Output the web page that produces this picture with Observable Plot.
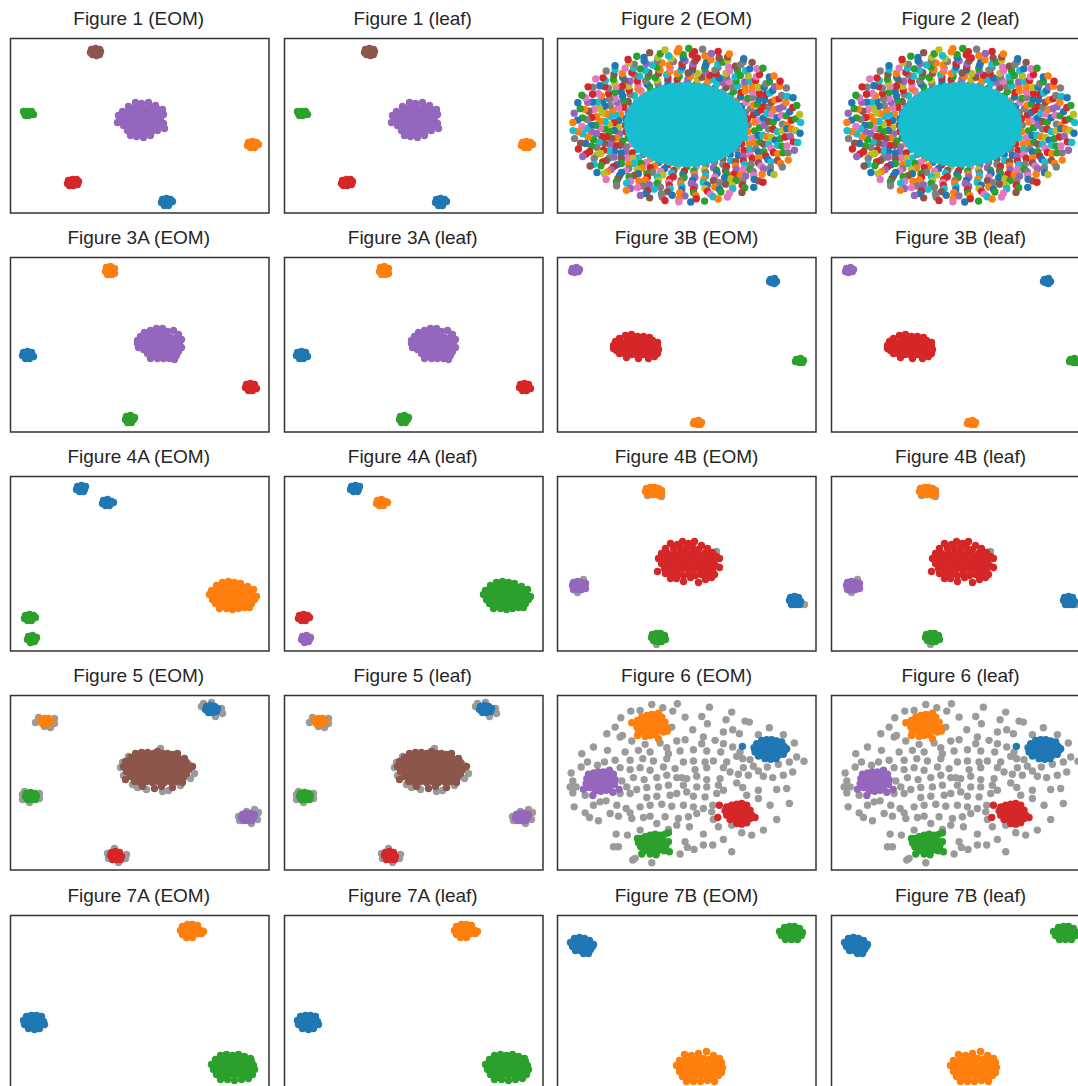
<!DOCTYPE html>
<html><head><meta charset="utf-8">
<script src="https://cdn.jsdelivr.net/npm/d3@7"></script>
<script src="https://cdn.jsdelivr.net/npm/@observablehq/plot@0.6"></script>
<style>
html,body{margin:0;padding:0;background:#fff;}
body{width:1078px;height:1086px;overflow:hidden;position:relative;font-family:"Liberation Sans",Arial,sans-serif;}
.title{position:absolute;font-size:19px;line-height:22px;color:#262626;text-align:center;white-space:nowrap;}
.panel{position:absolute;}
.panel svg{max-width:none !important;display:block;}
</style></head><body>
<script>
// ---------- colours (tab10 + noise grey) ----------
const palette = {b:"#1f77b4", o:"#ff7f0e", g:"#2ca02c", r:"#d62728", p:"#9467bd", n:"#8c564b", k:"#e377c2", y:"#7f7f7f", l:"#bcbd22", c:"#17becf", z:"#9b9b9b"};

// ---------- panel titles ----------
const titles = [
  "Figure 1 (EOM)","Figure 1 (leaf)","Figure 2 (EOM)","Figure 2 (leaf)",
  "Figure 3A (EOM)","Figure 3A (leaf)","Figure 3B (EOM)","Figure 3B (leaf)",
  "Figure 4A (EOM)","Figure 4A (leaf)","Figure 4B (EOM)","Figure 4B (leaf)",
  "Figure 5 (EOM)","Figure 5 (leaf)","Figure 6 (EOM)","Figure 6 (leaf)",
  "Figure 7A (EOM)","Figure 7A (leaf)","Figure 7B (EOM)","Figure 7B (leaf)"
];

// ---------- Figure 1 (embedding units, y down) ----------
const fig1Groups = [
  "81,11 85,10 89,11 80,14 84,14 88,14 90,13 82,16 86,17 89,16",
  "14,75 17,73 21,73 23,76 19,76 15,77 18,77 13,73",
  "125,64 131,65 138,64 145,67 118,68 122,70 128,69 134,70 140,69 146,70 152,71 112,73 117,74 123,74 129,74 135,73 141,74 147,75 153,76 108,77 114,78 120,78 126,79 132,78 138,79 144,78 150,80 110,82 116,82 122,83 128,83 134,84 140,83 146,84 153,85 113,87 119,88 125,88 131,89 137,88 143,89 149,88 117,92 123,93 129,94 135,93 141,93 147,92 120,97 126,98 133,99 140,97 154,90 107,84",
  "238,104 242,103 246,104 237,107 241,106 245,107 248,106 240,109 244,109",
  "58,142 62,141 66,141 57,145 61,144 65,144 68,143 59,147 63,147 67,146",
  "152,161 156,160 160,161 151,164 155,164 159,164 162,163 154,167 158,167"
];
const fig1EOM = "ngporb";
const fig1Leaf = "ngporb";

// ---------- Figure 2 (concentric rings: angle in degrees + label letter) ----------
const fig2Center = [410, 283];
const fig2Radius = [342, 231];
const fig2RingScales = [0.54, 0.60, 0.64, 0.68, 0.72, 0.76, 0.80, 0.84, 0.88, 0.92, 0.96, 1.0];
const fig2Rings = [
  "0y 9r 18y 27b 36o 45g 54k 63r 72p 81n 90y 99c 108b 117r 126g 135l 144o 153y 162p 171b 180n 189r 198g 207k 216c 225y 234o 243b 252r 261l 270g 279k 288p 297y 306n 315b 324y 333r 342c 351o",
  "4o 13r 21y 30k 38b 47g 55n 64c 72o 81l 89p 98r 106b 115y 123g 132k 140c 149n 157r 166o 174b 183l 191p 200g 208y 217r 225c 234k 242o 251b 259n 268r 276g 285l 293p 302y 310c 319b 327r 336o 344k 353g",
  "6k 15b 24o 33g 42r 51y 60p 69c 78n 87o 96g 105r 114l 123b 132o 141y 150g 159k 168c 177r 186b 195o 204n 213p 222l 231g 240r 249k 258c 267b 276o 285y 294g 303r 312n 321p 330c 339o 348b 357g",
  "0p 8b 17r 24g 32y 41o 49c 57k 65b 73r 82l 89n 97o 105c 114g 122y 129k 138r 146b 154p 163o 170c 179l 187g 195n 203r 212b 219k 227c 235o 244y 252l 260r 268g 276p 284c 293b 300n 309o 317r 325k 333y 341g 349c",
  "4n 12c 20r 28b 37k 45o 53g 61y 69r 77p 86b 94c 102o 110n 118g 127r 135l 143b 151k 159y 168o 176c 184g 192r 200p 208b 217n 225o 233l 241g 249c 258r 266y 274b 282o 290k 299g 307p 315c 323r 331b 340n 348o 356y",
  "3g 11k 18y 26b 33r 41o 48p 56c 63l 71y 78g 86r 93b 101k 108o 116n 123c 131p 138r 146g 153y 161b 168l 176o 183k 191r 198n 206c 213p 221g 228y 236b 243r 251l 258k 266o 273p 281c 288n 296b 303r 311k 318y 326o 333g 341c 348l 356r",
  "7b 15o 22n 30r 38l 46c 54g 62k 70y 78b 86p 93r 101o 109g 117c 125y 133n 141k 149r 157b 164l 172o 180g 188p 196c 204r 212y 220b 228k 235n 243o 251g 259r 267c 275p 283b 291y 299l 306o 314g 322n 330r 338k 346b 354c",
  "1y 9k 15p 23o 30c 36b 44r 50l 58g 64k 71c 78b 85n 91p 98y 105o 111c 119g 125r 132b 139l 145y 153o 159c 166k 173r 180b 186p 193g 200y 206l 213n 220r 227b 233g 240o 247p 254y 260c 267b 274r 281l 287o 294n 301g 308p 314y 321k 328b 335r 342c 348g 355l",
  "0o 8g 16p 23r 31b 38y 46k 54c 61n 69g 76o 84r 92b 99l 107y 114p 122c 130o 137g 145r 152k 160b 168n 175y 183c 190o 198g 206l 213r 221p 228b 236k 244y 251c 259n 266o 274g 282r 289b 297l 304y 312k 320p 327c 335o 342g 350r 357b",
  "4r 11b 19o 25y 33p 38g 46r 53b 59y 67l 72n 80o 87r 92g 100c 106l 114b 120y 126k 134n 141c 146b 154r 161p 167o 174g 181k 187c 195b 202r 208y 215g 221o 229n 235c 242k 248r 256y 262b 269p 275o 283k 289g 296c 302r 310b 316o 323y 330n 337g 343k 351p 357o",
  "5g 14r 23c 32o 41b 50k 59y 68n 77p 86r 95o 104g 113b 122l 131c 140r 149y 158k 167g 176b 185o 194n 203r 212c 221l 230g 239p 248b 257y 266o 275r 284c 293k 302g 311n 320b 329o 338y 347r 356l",
  "2c 8l 15g 21b 29y 35r 40o 48g 55n 60b 68o 74r 82y 89g 94o 101l 109n 116g 121r 129b 135y 143k 150r 157g 163b 171p 178o 184c 190y 198r 204p 212n 218b 225k 232y 238o 246p 251n 259r 266k 272b 279g 286o 291k 299n 306b 312r 320l 327y 333o 341p 347c 354b"
];
const fig2CoreCenter = [408, 281];
const fig2CoreRadius = [176, 118];
const fig2CoreAngles = "0 8 17 26 34 43 52 61 69 78 87 96 104 113 122 131 139 148 157 166 174 183 192 201 209 218 227 236 244 253 262 271 279 288 297 306 314 323 332 341 349";

// ---------- Figure 3A ----------
const fig3aGroups = [
  "96,10 100,9 104,11 95,14 99,13 103,14 97,17 101,17 104,16",
  "13,95 17,94 21,95 12,98 16,98 20,98 23,99 15,101 19,101",
  "146,71 152,71 140,73 157,74 163,73 134,75 145,75 151,76 168,77 130,79 136,79 142,79 148,80 154,79 160,80 166,80 171,82 127,83 133,83 139,84 145,84 151,84 157,83 163,84 169,85 130,88 136,88 142,88 148,89 154,88 160,88 166,89 171,90 133,92 139,92 145,93 151,93 157,92 163,93 168,94 137,96 143,97 149,96 155,97 161,97 166,98 140,101 147,101 153,101 159,101 164,102 128,90 127,86",
  "236,127 240,126 244,127 235,130 239,130 243,130 246,131 238,133 242,133",
  "116,159 120,158 124,160 115,162 119,162 123,162 117,165 121,165"
];
const fig3aEOM = "obprg";
const fig3aLeaf = "obprg";

// ---------- Figure 3B ----------
const fig3bGroups = [
  "15,11 19,10 22,12 14,14 18,13 21,14 17,15",
  "213,22 217,21 219,24 214,25 217,26 212,24",
  "68,78 74,77 80,79 86,79 92,80 62,81 70,81 76,82 82,82 88,83 95,83 100,85 58,84 64,85 70,85 76,86 82,86 88,86 94,87 100,88 56,88 61,89 67,89 73,89 79,90 85,89 91,90 97,91 101,92 59,93 65,92 71,93 77,93 83,94 89,93 95,94 100,96 62,96 68,97 74,97 80,98 86,97 92,98 97,99 69,100 81,101 91,101 56,91",
  "239,102 243,101 246,103 238,104 242,105 245,105",
  "137,164 141,163 144,165 136,166 140,167 143,167"
];
const fig3bEOM = "pbrgo";
const fig3bLeaf = "pbrgo";

// ---------- Figure 4A ----------
const fig4aGroups = [
  "67,10 71,9 75,10 66,13 70,13 74,13 69,15 73,15",
  "93,24 97,23 101,25 92,27 96,27 100,27 103,26 95,29 99,29",
  "212,106 218,105 224,106 230,107 206,109 213,110 219,110 225,110 231,111 237,110 201,114 207,114 213,114 219,115 225,114 231,115 237,114 243,113 199,118 205,119 211,118 217,119 223,119 229,119 235,118 241,118 246,120 202,123 208,123 214,124 220,123 226,124 232,123 238,124 244,123 205,127 211,128 217,128 223,128 229,127 235,128 241,127 209,132 216,132 222,133 228,132 234,131 239,131",
  "15,139 19,138 23,139 14,142 18,142 22,142 25,141 17,144 21,144",
  "18,160 22,159 26,161 17,163 21,163 25,163 20,166 24,165"
];
const fig4aEOM = "bbogg";
const fig4aLeaf = "bogrp";

// ---------- Figure 4B ----------
const fig4bGroups = [
  "104,20 159,75 26,103 20,116 247,128 99,168 90,19",
  "89,12 93,11 97,11 101,12 104,14 88,15 92,15 96,15 100,15 104,17 91,18 95,18 99,18 102,19",
  "113,67 120,68 125,65 131,67 137,65 144,69 150,72 108,72 116,72 123,72 129,71 135,71 141,73 148,76 155,76 104,77 110,77 117,77 123,77 129,76 135,77 141,78 147,80 153,80 159,80 101,82 107,82 113,82 119,82 125,82 131,82 137,82 143,84 149,85 156,85 162,82 104,87 110,87 116,88 122,87 128,87 134,87 140,88 146,89 152,89 158,89 162,91 100,95 107,92 113,92 119,93 125,92 131,93 137,92 143,94 149,94 155,94 108,97 114,98 120,97 126,99 132,97 138,99 144,98 150,98 157,98 113,102 119,102 126,105 133,101 141,106 148,103 154,101",
  "16,106 20,105 24,106 28,107 15,109 19,109 23,109 27,110 16,113 20,113 24,113 28,112",
  "233,121 237,120 241,121 232,124 236,124 240,124 243,125 234,128 238,128 242,128",
  "95,158 99,157 103,157 107,159 94,161 98,161 102,161 106,162 96,164 100,165 104,165 108,163"
];
const fig4bEOM = "zorpbg";
const fig4bLeaf = "zorpbg";

// ---------- Figure 5 ----------
const fig5Groups = [
  "25,27 44,23 44,28 40,32 34,31 28,22 191,11 211,13 212,18 205,21 193,8 201,7 110,72 112,67 150,53 118,61 180,83 184,78 178,69 127,92 136,94 152,96 170,90 113,80 158,95 122,89 12,99 12,104 29,98 29,103 19,107 14,96 228,121 229,125 248,117 247,124 241,128 236,116 244,114 97,158 98,163 115,163 116,159 104,153 108,167",
  "30,24 34,23 38,23 41,25 31,27 35,27 39,27 33,29 37,29",
  "196,11 200,10 204,11 207,13 195,14 199,14 203,14 206,16 198,17 202,17",
  "125,58 131,57 137,57 143,58 147,56 152,58 157,58 162,59 167,58 120,62 126,62 132,62 138,61 144,62 150,62 156,62 162,63 168,63 174,63 115,66 121,66 127,67 133,66 139,67 145,66 151,67 157,66 163,67 169,68 176,67 182,71 113,71 119,71 125,71 131,72 137,71 143,72 149,71 155,72 161,71 167,72 173,72 178,74 116,76 122,76 128,77 134,76 140,77 146,76 152,77 158,76 164,77 170,76 176,78 115,84 120,81 126,81 132,82 138,81 144,82 150,81 156,82 162,81 168,82 173,82 124,86 130,87 136,86 142,87 148,86 154,87 160,86 166,86 172,87 132,91 144,93 151,91 162,92",
  "16,98 20,97 24,98 15,101 19,101 23,101 26,100 17,104 21,104 25,104",
  "232,119 236,118 240,118 244,119 231,122 235,122 239,122 243,122 233,125 237,125 241,125",
  "101,157 105,156 109,157 100,160 104,160 108,160 111,161 102,164 106,164 110,164"
];
const fig5EOM = "zobngpr";
const fig5Leaf = "zobngpr";

// ---------- Figure 6 (finer embedding units, y down) ----------
const fig6Groups = [
  "305,42 382,40 338,52 242,62 270,60 368,62 478,50 545,65 212,82 405,80 455,78 528,88 585,92 598,95 472,100 195,110 365,110 428,118 520,125 548,118 568,130 658,112 625,133 700,133 170,130 210,140 217,135 245,152 285,162 330,158 350,172 380,152 405,148 460,140 495,150 455,160 520,160 548,170 570,185 733,158 130,170 172,180 95,190 225,185 265,180 300,185 355,190 390,182 430,178 470,182 512,185 560,198 600,208 718,215 740,200 762,213 112,215 142,225 163,215 195,210 240,210 278,205 310,212 350,205 400,215 430,212 465,215 490,212 530,215 578,205 580,232 610,228 652,230 685,222 63,248 68,272 78,290 60,290 93,230 210,232 240,238 270,232 300,240 340,230 375,235 395,262 435,238 470,232 520,232 540,245 565,252 595,255 625,242 640,258 668,262 700,255 728,245 215,272 250,262 282,268 320,262 350,255 380,262 410,265 440,258 470,268 510,265 560,278 230,290 260,298 290,292 325,290 355,285 400,285 440,290 470,290 505,285 520,300 578,292 590,315 625,300 680,298 710,295 178,298 210,310 240,310 290,322 320,318 360,315 380,310 410,305 430,318 465,320 500,310 68,308 72,350 105,315 130,345 150,335 168,332 200,345 228,355 270,350 300,345 335,342 365,348 400,345 430,350 460,355 488,345 625,325 660,345 718,340 105,368 118,382 145,392 180,370 205,378 240,368 245,385 280,382 300,378 345,380 385,385 415,380 440,370 485,365 490,388 505,410 545,405 575,428 605,435 640,420 680,388 198,432 232,435 270,420 320,400 355,418 380,405 418,410 460,432 405,455 390,492 412,472 432,478 460,465 488,465 190,470 205,470 248,510 255,505 305,518 520,448 545,485",
  "262,90 275,80 290,75 305,72 320,72 335,80 270,100 285,95 300,90 315,88 330,92 345,95 260,110 275,112 290,108 305,105 320,105 335,108 350,112 265,125 280,125 295,122 310,120 325,122 340,125 285,138 300,135 315,133 245,97 352,122 325,145 262,135 325,68 280,88 298,115 312,100",
  "620,160 635,150 650,148 665,148 680,152 695,155 612,172 627,168 642,165 657,162 672,163 687,165 702,168 615,185 630,182 645,180 660,178 675,178 690,180 705,180 625,197 640,195 655,195 670,193 685,195 700,192 645,205 662,207 678,205 577,168 710,175",
  "115,252 130,248 145,245 160,245 175,248 190,252 110,265 125,262 140,260 155,258 170,260 185,265 195,268 108,280 123,278 138,276 153,275 168,277 183,280 193,282 118,292 133,290 148,292 163,290 178,293 135,302 152,303 168,300 178,240 100,297 128,316 188,306 207,298",
  "530,350 545,345 560,342 575,340 590,345 525,362 540,360 555,357 570,355 585,357 600,360 530,375 545,373 560,372 575,370 590,372 605,375 615,382 540,388 555,387 570,387 585,388 600,385 560,400 575,402 590,398 508,345 503,382",
  "270,445 285,440 300,435 315,432 330,435 345,432 265,458 280,456 295,453 310,450 325,450 340,452 355,455 272,470 287,468 302,466 317,465 332,466 347,468 358,485 282,482 297,481 312,480 327,480 342,482 300,492 318,494 275,492 355,428 262,445"
];
const fig6EOM = "zobprg";
const fig6Leaf = "zobprg";

// ---------- Figure 7A ----------
const fig7aGroups = [
  "172,11 177,9 182,9 187,10 170,15 175,14 180,14 185,14 190,15 193,16 172,19 177,19 182,19 187,18 191,18 176,22 182,22",
  "16,101 21,100 26,100 31,101 13,105 18,105 23,104 28,104 33,106 14,109 19,110 24,109 29,110 34,109 18,113 24,114 29,113",
  "210,140 216,139 222,140 228,139 234,141 240,143 205,144 211,145 217,144 223,144 229,145 235,145 241,146 201,149 207,149 213,150 219,149 225,150 231,149 237,150 243,150 203,154 209,155 215,154 221,155 227,154 233,155 239,155 244,154 206,159 212,160 218,159 224,160 230,159 236,160 242,159 210,164 217,164 224,165 231,164 238,163"
];
const fig7aEOM = "obg";
const fig7aLeaf = "obg";

// ---------- Figure 7B ----------
const fig7bGroups = [
  "17,23 22,22 27,23 32,25 13,27 18,27 23,27 28,27 33,28 36,29 15,31 20,31 25,31 30,31 35,31 18,35 23,35 28,35 33,34 26,38 31,38",
  "227,12 232,11 237,11 242,13 222,16 227,16 232,15 237,15 242,16 245,17 224,20 229,20 234,20 239,20 244,20 228,24 234,24 240,24",
  "127,139 134,140 141,138 149,136 156,140 162,143 122,145 128,145 134,144 140,144 146,143 152,144 158,145 164,147 119,150 125,151 131,150 137,150 143,149 149,150 155,150 161,151 165,152 122,156 128,156 134,156 140,155 146,155 152,156 158,156 164,157 125,161 131,161 137,161 143,160 149,161 155,161 161,160 129,166 136,166 143,166 150,165 157,166"
];
const fig7bEOM = "bgo";
const fig7bLeaf = "bgo";

// ---------- helpers ----------
function parseGroup(str, code) {
  return str.trim().split(/\s+/).map(tok => {
    const [x, y] = tok.split(",").map(Number);
    return {x, y, color: palette[code]};
  });
}
function groupsToRows(groups, labels) {
  return groups.flatMap((g, i) => parseGroup(g, labels[i]));
}
function ringRows() {
  return fig2Rings.flatMap((ring, i) => ring.trim().split(/\s+/).map(tok => {
    const a = parseFloat(tok) * Math.PI / 180;
    const s = fig2RingScales[i];
    return {x: fig2Center[0] + fig2Radius[0] * s * Math.cos(a), y: fig2Center[1] - fig2Radius[1] * s * Math.sin(a), color: palette[tok.slice(-1)]};
  }));
}
function coreRows() {
  return fig2CoreAngles.trim().split(/\s+/).map(tok => {
    const a = parseFloat(tok) * Math.PI / 180;
    return {x: fig2CoreCenter[0] + fig2CoreRadius[0] * Math.cos(a), y: fig2CoreCenter[1] - fig2CoreRadius[1] * Math.sin(a), color: palette.c};
  });
}

const localX = [0, 258.5], localY = [174.5, 0];
const fineX = [22, 798];
const fig2Y = [547, 22], fig6Y = [540, 15];

const fig2Layers = [{type: "dots", data: ringRows()}, {type: "fill", data: coreRows()}, {type: "dots", data: coreRows()}];

const specs = [
  {x: localX, y: localY, layers: [{type:"dots", data: groupsToRows(fig1Groups, fig1EOM)}]},
  {x: localX, y: localY, layers: [{type:"dots", data: groupsToRows(fig1Groups, fig1Leaf)}]},
  {x: fineX, y: fig2Y, layers: fig2Layers},
  {x: fineX, y: fig2Y, layers: fig2Layers},
  {x: localX, y: localY, layers: [{type:"dots", data: groupsToRows(fig3aGroups, fig3aEOM)}]},
  {x: localX, y: localY, layers: [{type:"dots", data: groupsToRows(fig3aGroups, fig3aLeaf)}]},
  {x: localX, y: localY, layers: [{type:"dots", data: groupsToRows(fig3bGroups, fig3bEOM)}]},
  {x: localX, y: localY, layers: [{type:"dots", data: groupsToRows(fig3bGroups, fig3bLeaf)}]},
  {x: localX, y: localY, layers: [{type:"dots", data: groupsToRows(fig4aGroups, fig4aEOM)}]},
  {x: localX, y: localY, layers: [{type:"dots", data: groupsToRows(fig4aGroups, fig4aLeaf)}]},
  {x: localX, y: localY, layers: [{type:"dots", data: groupsToRows(fig4bGroups, fig4bEOM)}]},
  {x: localX, y: localY, layers: [{type:"dots", data: groupsToRows(fig4bGroups, fig4bLeaf)}]},
  {x: localX, y: localY, layers: [{type:"dots", data: groupsToRows(fig5Groups, fig5EOM)}]},
  {x: localX, y: localY, layers: [{type:"dots", data: groupsToRows(fig5Groups, fig5Leaf)}]},
  {x: fineX, y: fig6Y, layers: [{type:"dots", data: groupsToRows(fig6Groups, fig6EOM)}]},
  {x: fineX, y: fig6Y, layers: [{type:"dots", data: groupsToRows(fig6Groups, fig6Leaf)}]},
  {x: localX, y: localY, layers: [{type:"dots", data: groupsToRows(fig7aGroups, fig7aEOM)}]},
  {x: localX, y: localY, layers: [{type:"dots", data: groupsToRows(fig7aGroups, fig7aLeaf)}]},
  {x: localX, y: localY, layers: [{type:"dots", data: groupsToRows(fig7bGroups, fig7bEOM)}]},
  {x: localX, y: localY, layers: [{type:"dots", data: groupsToRows(fig7bGroups, fig7bLeaf)}]}
];

// ---------- layout ----------
const COLS = [9.5, 283.5, 557.3, 831.3];
const ROWS = [37.5, 256.7, 475.7, 695, 914.5];
const PW = 258.5, PH = 174.5, M = 1;

specs.forEach((spec, i) => {
  const r = Math.floor(i / 4), c = i % 4;
  const marks = spec.layers.map(layer => layer.type === "dots"
    ? Plot.dot(layer.data, {x: "x", y: "y", r: 3.7, fill: "color", clip: true})
    : Plot.line(layer.data, {x: "x", y: "y", curve: "linear-closed", fill: "#17becf", stroke: "#17becf", strokeWidth: 6, strokeLinejoin: "round", clip: true}));
  marks.push(Plot.frame({stroke: "#333333", strokeWidth: 1.5}));
  const svg = Plot.plot({
    width: PW + 2 * M, height: PH + 2 * M,
    marginTop: M, marginRight: M, marginBottom: M, marginLeft: M,
    x: {domain: spec.x, axis: null},
    y: {domain: spec.y, axis: null},
    color: {type: "identity"},
    style: {background: "transparent", overflow: "visible"},
    marks
  });
  const div = document.createElement("div");
  div.className = "panel";
  div.style.left = (COLS[c] - M) + "px";
  div.style.top = (ROWS[r] - M) + "px";
  div.style.width = (PW + 2 * M) + "px";
  div.appendChild(svg);
  document.body.appendChild(div);

  const t = document.createElement("div");
  t.className = "title";
  t.textContent = titles[i];
  t.style.left = COLS[c] + "px";
  t.style.width = PW + "px";
  t.style.top = (ROWS[r] - 29.9) + "px";
  document.body.appendChild(t);
});
</script>
</body></html>
